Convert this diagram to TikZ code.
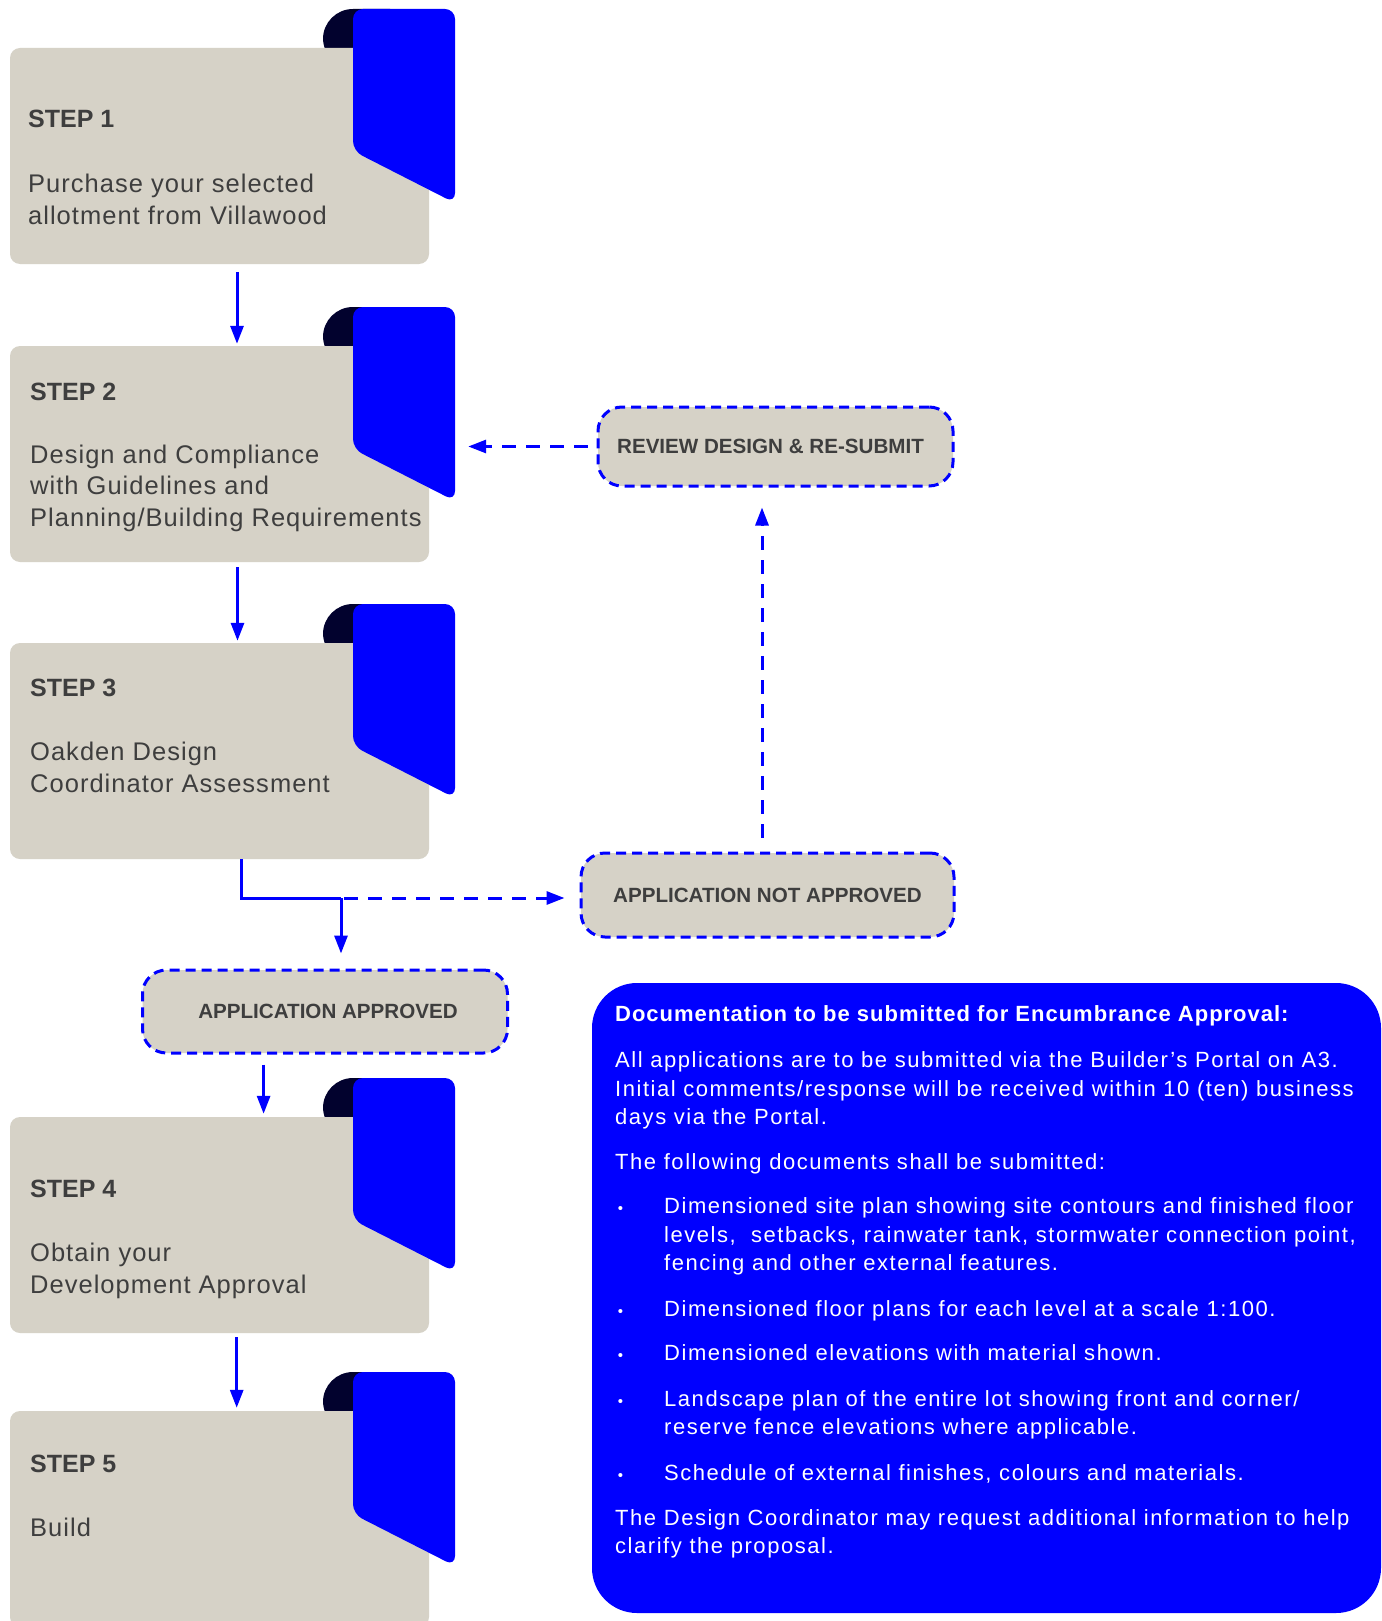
\documentclass[tikz,border=0pt]{standalone}
\usepackage{fontspec}
\setmainfont{Liberation Sans}
\newfontfamily\stepfont[LetterSpace=4]{Liberation Sans}
\newfontfamily\docfont[LetterSpace=7]{Liberation Sans}
\newfontfamily\docbf[LetterSpace=4.5]{Liberation Sans}
\usetikzlibrary{arrows.meta}
\definecolor{boxgray}{RGB}{214,210,199}
\definecolor{flapblue}{RGB}{0,0,255}
\definecolor{flapdark}{RGB}{2,2,46}
\definecolor{txtgray}{RGB}{62,62,62}
\newcommand\Lines[1]{\vtop{\let\\\cr\halign{##\hfil\cr#1\crcr}}}
\tikzset{
 stepbox/.style={fill=boxgray, rounded corners=10pt, minimum width=419pt, minimum height=216pt, inner sep=0pt, draw=none},
 steplabel/.style={anchor=base west, inner sep=0pt, text=txtgray, font=\fontsize{25}{30}\selectfont\bfseries},
 steptext/.style={anchor=base west, inner sep=0pt, text=txtgray, font=\stepfont\fontsize{25.5}{31.5}\selectfont},
 statebox/.style={fill=boxgray, draw=flapblue, line width=3pt, dash pattern=on 10pt off 6pt, rounded corners=24pt, inner sep=0pt, text=txtgray, font=\fontsize{20.6}{24}\selectfont\bfseries},
 flow/.style={draw=flapblue, line width=3pt, -{Triangle[width=13pt,length=18pt]}},
 dflow/.style={flow, dash pattern=on 14pt off 10pt},
 docbox/.style={fill=flapblue, rounded corners=45pt, minimum width=789pt, minimum height=630pt, inner sep=0pt},
 doctext/.style={anchor=base west, inner sep=0pt, text=white, font=\docfont\fontsize{22}{28.7}\selectfont},
 doctitle/.style={anchor=base west, inner sep=0pt, text=white, font=\docbf\bfseries\fontsize{22}{28.7}\selectfont},
 bul/.style={anchor=base, inner sep=0pt, text=white, font=\fontsize{15}{18}\selectfont},
 darktab/.style={fill=flapdark, rounded corners=30pt},
 bluetab/.style={fill=flapblue, rounded corners=10pt},
}
\newcommand\backtab[1]{%
  \begin{scope}[shift={(0,#1)}]
    \path[darktab] (323,20) -- (323,-39) -- (420,-39) -- (420,20) -- cycle;
  \end{scope}}
\newcommand\fronttab[1]{%
  \begin{scope}[shift={(0,#1)}]
    \path[bluetab] (353,-39) -- (455,-39) -- (455,155) -- (353,103) -- cycle;
  \end{scope}}
\begin{document}
\begin{tikzpicture}[x=1pt,y=-1pt]
\useasboundingbox (0,0) rectangle (1381,1621);
\clip (0,0) rectangle (1381,1621);
\fill[white] (0,0) rectangle (1381,1621);

% step boxes
\backtab{48}
\node[stepbox] (s1) at (219.5,156) {};
\fronttab{48}
\backtab{346}
\node[stepbox] (s2) at (219.5,454) {};
\fronttab{346}
\backtab{643}
\node[stepbox] (s3) at (219.5,751) {};
\fronttab{643}
\backtab{1117}
\node[stepbox] (s4) at (219.5,1225) {};
\fronttab{1117}
\backtab{1411}
\node[stepbox] (s5) at (219.5,1519) {};
\fronttab{1411}

% step texts
\node[steplabel] (l1) at (28,128) {STEP 1};
\node[steptext] (t1) at (28,192.7) {\Lines{Purchase your selected\\allotment from Villawood}};
\node[steplabel] (l2) at (30,400) {STEP 2};
\node[steptext] (t2) at (30,463.3) {\Lines{Design and Compliance\\with Guidelines and\\Planning/Building Requirements}};
\node[steplabel] (l3) at (30,696.4) {STEP 3};
\node[steptext] (t3) at (30,760.5) {\Lines{Oakden Design\\Coordinator Assessment}};
\node[steplabel] (l4) at (30,1197.8) {STEP 4};
\node[steptext] (t4) at (30,1261.8) {\Lines{Obtain your\\Development Approval}};
\node[steplabel] (l5) at (30,1472.7) {STEP 5};
\node[steptext] (t5) at (30,1536.8) {Build};

% state boxes
\node[statebox, minimum width=355pt, minimum height=79pt] (rev) at (775.5,446.5) {REVIEW DESIGN \& RE-SUBMIT\hspace*{10pt}};
\node[statebox, minimum width=373pt, minimum height=84pt] (nap) at (767.5,895) {APPLICATION NOT APPROVED};
\node[statebox, minimum width=365pt, minimum height=83pt] (app) at (325,1011.5) {\hspace*{6pt}APPLICATION APPROVED};

% connectors
\draw[flow, shorten <=8pt, shorten >=2pt] ([xshift=17.5pt]s1.south) -- ([xshift=17.5pt]s2.north);
\draw[flow, shorten <=5pt, shorten >=2pt] ([xshift=18pt]s2.south) -- ([xshift=18pt]s3.north);
\coordinate (j) at (341,898);
\draw[draw=flapblue, line width=3pt] ([xshift=21.5pt]s3.south) |- (j);
\draw[flow, shorten >=15pt] (j) -- (j |- app.north);
\draw[dflow, shorten <=3pt, shorten >=15pt] (j) -- (j -| nap.west);
\draw[dflow, shorten <=14pt, shorten >=20pt] ([xshift=-5.5pt]nap.north) -- ([xshift=-5.5pt]nap.north |- rev.south);
\draw[dflow, shorten <=9pt, shorten >=39pt] (rev.west) -- (rev.west -| s2.east);
\draw[flow, shorten <=10pt, shorten >=3pt] ([xshift=-61.4pt]app.south) -- ([xshift=-61.4pt]app.south |- s4.north);
\draw[flow, shorten <=4pt, shorten >=3pt] ([xshift=17.2pt]s4.south) -- ([xshift=17.2pt]s5.north);

% documentation box
\node[docbox] (doc) at (986.5,1298) {};
\node[doctitle] (dt) at (615,1021.7) {Documentation to be submitted for Encumbrance Approval:};
\node[doctext] (d1) at (615,1067.3) {\Lines{All applications are to be submitted via the Builder’s Portal on A3.\\Initial comments/response will be received within 10 (ten) business\\days via the Portal.}};
\node[doctext] (d2) at (615,1169.3) {The following documents shall be submitted:};
\node[bul] (b1) at (620.5,1213.3) {•};
\node[doctext] (e1) at (664,1213.3) {\Lines{Dimensioned site plan showing site contours and finished floor\\levels, \ setbacks, rainwater tank, stormwater connection point,\\fencing and other external features.}};
\node[bul] (b2) at (620.5,1316.7) {•};
\node[doctext] (e2) at (664,1316.7) {Dimensioned floor plans for each level at a scale 1:100.};
\node[bul] (b3) at (620.5,1360.7) {•};
\node[doctext] (e3) at (664,1360.7) {Dimensioned elevations with material shown.};
\node[bul] (b4) at (620.5,1406) {•};
\node[doctext] (e4) at (664,1406) {\Lines{Landscape plan of the entire lot showing front and corner/\\reserve fence elevations where applicable.}};
\node[bul] (b5) at (620.5,1480) {•};
\node[doctext] (e5) at (664,1480) {Schedule of external finishes, colours and materials.};
\node[doctext] (d3) at (615,1525) {\Lines{The Design Coordinator may request additional information to help\\clarify the proposal.}};
\end{tikzpicture}
\end{document}
